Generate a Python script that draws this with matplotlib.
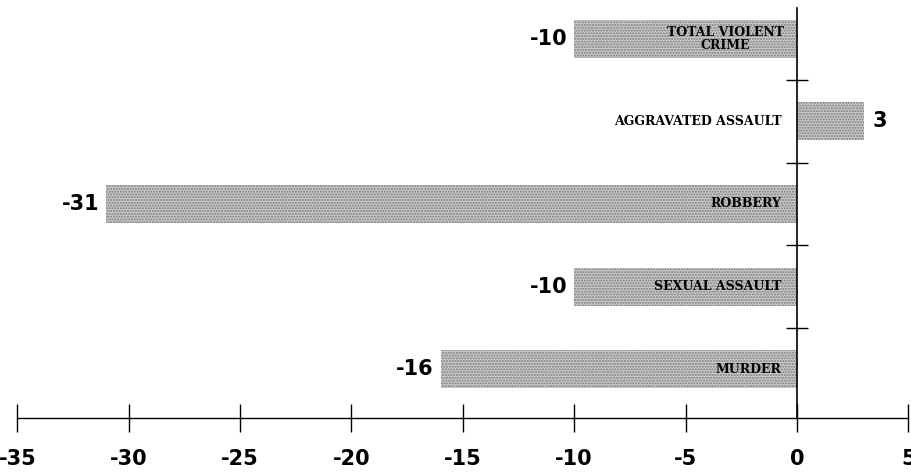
import matplotlib
matplotlib.use('Agg')
import matplotlib.pyplot as plt

# --- datos ---
categorias = ['MURDER', 'SEXUAL ASSAULT', 'ROBBERY', 'AGGRAVATED ASSAULT', 'TOTAL VIOLENT\nCRIME']
valores = [-16, -10, -31, 3, -10]
ticks_x = [-35, -30, -25, -20, -15, -10, -5, 0, 5]

fig = plt.figure(figsize=(9.11, 4.74), dpi=100)
ax = fig.add_axes([0.019, 0.118, 0.978, 0.865])

posiciones = list(range(len(categorias)))
ax.barh(posiciones, valores, height=0.46, color='#cbcbcb', hatch='......',
        edgecolor='#7a7a7a', linewidth=0)

# etiquetas de valores
for y, v in zip(posiciones, valores):
    if v < 0:
        ax.text(v - 0.3, y, f'{v}', ha='right', va='center', fontsize=15,
                fontweight='bold', color='black')
    else:
        ax.text(v + 0.4, y, f'{v}', ha='left', va='center', fontsize=15,
                fontweight='bold', color='black')

# etiquetas de categorias
for y, nombre in zip(posiciones, categorias):
    if '\n' in nombre:
        ax.text(-3.2, y, nombre, ha='center', va='center', fontsize=9,
                fontweight='bold', family='DejaVu Serif', linespacing=1.0)
    else:
        ax.text(-0.7, y, nombre, ha='right', va='center', fontsize=9,
                fontweight='bold', family='DejaVu Serif')

ax.set_xlim(-35, 5)
ax.set_ylim(-0.59, 4.37)
ax.set_xticks(ticks_x)
ax.set_xticklabels([str(t) for t in ticks_x], fontsize=15, fontweight='bold')
ax.set_yticks([0.5, 1.5, 2.5, 3.5])
ax.set_yticklabels([])

ax.spines['top'].set_visible(False)
ax.spines['right'].set_visible(False)
ax.spines['left'].set_position(('data', 0))
ax.spines['left'].set_linewidth(1.2)
ax.spines['bottom'].set_linewidth(1.0)
ax.tick_params(axis='x', direction='inout', length=20, width=1.0, pad=12)
ax.tick_params(axis='y', direction='inout', length=16, width=1.0)

fig.savefig('out.png', dpi=100)
